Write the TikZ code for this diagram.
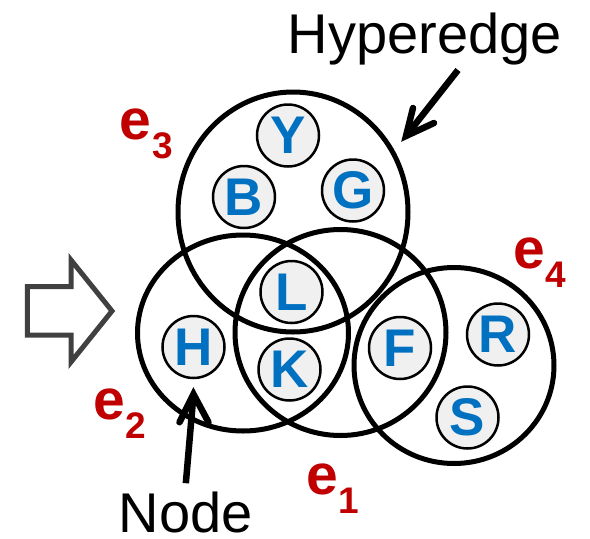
\documentclass[tikz,border=0pt]{standalone}
\usepackage{fontspec}
\setmainfont{Liberation Sans}
\usetikzlibrary{shapes.geometric}

\definecolor{nodegray}{HTML}{F0F0F0}
\definecolor{nodeblue}{HTML}{0070C0}
\definecolor{edgered}{HTML}{C00000}
\definecolor{arrowgray}{HTML}{404040}

% hyperedge label: bold "e" with a lowered index
\newcommand{\hedgename}[1]{e\kern0.8pt\raisebox{-19pt}{\fontsize{37}{37}\selectfont #1}}

\tikzset{
  hedge/.style={ellipse, draw=black, line width=5pt, inner sep=0pt},
  vtx/.style={circle, draw=black, line width=2.5pt, fill=nodegray,
    minimum size=62pt, inner sep=0pt, text=nodeblue,
    font=\fontsize{53}{53}\selectfont\bfseries},
  elab/.style={anchor=base west, inner sep=0pt, text=edgered,
    font=\fontsize{57}{57}\selectfont\bfseries},
  caption/.style={anchor=base west, inner sep=0pt,
    font=\fontsize{56}{60}\selectfont},
  ptr/.style={line width=6.5pt},
  barb/.style={line width=6.5pt, line cap=round, line join=miter},
  hollow/.style={draw=arrowgray, line width=5pt, line join=miter},
}

\begin{document}
\begin{tikzpicture}[x=1pt,y=-1pt]
  \useasboundingbox (0,0) rectangle (590,539);

  % hyperedges
  \node[hedge, minimum width=230pt, minimum height=240pt] (e3) at (293,212) {};
  \node[hedge, minimum width=211pt, minimum height=196pt] (e2) at (243,333) {};
  \node[hedge, minimum width=211pt, minimum height=206pt] (e1) at (340.5,332.5) {};
  \node[hedge, minimum width=200pt, minimum height=196pt] (e4) at (454,365.5) {};

  % vertices
  \node[vtx] (nY) at (288,135.5) {Y};
  \node[vtx] (nB) at (244,197) {B};
  \node[vtx] (nG) at (353,190.5) {G};
  \node[vtx] (nL) at (291.5,292) {L};
  \node[vtx] (nK) at (289.5,369.5) {K};
  \node[vtx] (nH) at (193.5,347) {H};
  \node[vtx] (nF) at (400,348) {F};
  \node[vtx] (nR) at (498,334.5) {R};
  \node[vtx] (nS) at (467.5,417.5) {S};

  % hyperedge names
  \node[elab] (l3) at (119.5,139) {\hedgename{3}};
  \node[elab] (l4) at (513,268) {\hedgename{4}};
  \node[elab] (l2) at (93,419) {\hedgename{2}};
  \node[elab] (l1) at (306,494) {\hedgename{1}};

  % captions
  \node[caption] (hyp) at (287.6,53) {Hyperedge};
  \node[caption] (nodelab) at (118.7,532) {Node};

  % pointer to a hyperedge: shaft, then a chevron head
  \coordinate (hypTail) at (458,70);
  \coordinate (hypTip) at (406,136);
  \draw[ptr] (hypTail) -- (hypTip);
  \draw[barb] ([shift={(7,-28)}]hypTip) -- (hypTip) -- ([shift={(28,-13)}]hypTip);

  % pointer to a vertex
  \coordinate (nodeTail) at ([yshift=8pt]nodelab.north);
  \coordinate (nodeTip) at ([yshift=-15pt]nH.south);
  \draw[ptr] (nodeTail) -- (nodeTip);
  \draw[barb] ([shift={(-14,28)}]nodeTip) -- (nodeTip) -- ([shift={(15,28)}]nodeTip);

  % block arrow
  \draw[hollow] (27.3,286.7) -- (71,286.7) -- (71,260) -- (112,311)
    -- (71,362) -- (71,335) -- (27.3,335) -- cycle;
\end{tikzpicture}
\end{document}
